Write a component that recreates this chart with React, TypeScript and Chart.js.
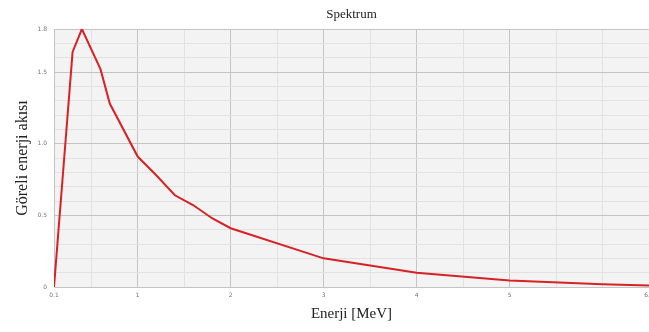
import React, { useEffect, useRef } from "react";
import { Chart, registerables } from "chart.js";

Chart.register(...registerables);

const ENERGY = [0.1, 0.3, 0.4, 0.6, 0.7, 1.0, 1.2, 1.4, 1.6, 1.8, 2.0, 3.0, 4.0, 5.0, 6.0, 6.5];
const FLUX = [0, 1.64, 1.8, 1.52, 1.28, 0.91, 0.78, 0.64, 0.57, 0.48, 0.41, 0.2, 0.1, 0.045, 0.02, 0.01];

const X_GRID = [0.1, 0.5, 1, 1.5, 2, 2.5, 3, 3.5, 4, 4.5, 5, 5.5, 6, 6.5];
const X_MAJOR = [1, 2, 3, 4, 5];
const X_TICK_LABELS: Record<string, string> = {
  "0.1": "0.1", "1.0": "1", "2.0": "2", "3.0": "3", "4.0": "4", "5.0": "5", "6.5": "6.5",
};
const Y_GRID = [0, 0.1, 0.2, 0.3, 0.4, 0.5, 0.6, 0.7, 0.8, 0.9, 1.0, 1.1, 1.2, 1.3, 1.4, 1.5, 1.6, 1.7, 1.8];
const Y_MAJOR = [0, 0.5, 1.0, 1.5, 1.8];
const Y_TICK_LABELS: Record<string, string> = {
  "0.0": "0", "0.5": "0.5", "1.0": "1.0", "1.5": "1.5", "1.8": "1.8",
};

const TITLE = "Spektrum";
const X_TITLE = "Enerji [MeV]";
const Y_TITLE = "Göreli enerji akısı";

const k = (v: number) => v.toFixed(1);

const bgPlugin = {
  id: "plotBg",
  beforeDraw(chart: any) {
    const { ctx, chartArea } = chart;
    if (!chartArea) return;
    ctx.save();
    ctx.fillStyle = "#f3f3f3";
    ctx.fillRect(chartArea.left, chartArea.top, chartArea.right - chartArea.left, chartArea.bottom - chartArea.top);
    ctx.restore();
  },
};

export default function App() {
  const ref = useRef<HTMLCanvasElement | null>(null);
  useEffect(() => {
    if (!ref.current) return;
    const chart = new Chart(ref.current, {
      type: "line",
      data: {
        datasets: [
          {
            data: ENERGY.map((e, i) => ({ x: e, y: FLUX[i] })),
            borderColor: "rgb(214,34,38)",
            borderWidth: 2,
            pointRadius: 0,
            fill: false,
            tension: 0,
          },
        ],
      },
      options: {
        animation: false,
        responsive: false,
        layout: { padding: 0 },
        plugins: {
          legend: { display: false },
          tooltip: { enabled: false },
          title: {
            display: true,
            text: TITLE,
            fullSize: false,
            color: "#222",
            font: { family: "Liberation Serif", size: 13, weight: "normal" },
            padding: { top: 7, bottom: 6.4 },
          },
        },
        scales: {
          x: {
            type: "linear",
            min: 0.1,
            max: 6.5,
            afterBuildTicks: (s: any) => {
              s.ticks = X_GRID.map((v) => ({ value: v }));
            },
            afterFit: (s: any) => {
              s.height = 45;
              s.paddingLeft = 0;
              s.paddingRight = 0;
            },
            ticks: {
              autoSkip: false,
              maxRotation: 0,
              padding: 5,
              color: "#777",
              font: { family: "DejaVu Sans", size: 6 },
              callback: (v: any) => X_TICK_LABELS[k(Number(v))] ?? "",
            },
            grid: {
              drawTicks: false,
              color: (c: any) =>
                c.tick && X_MAJOR.some((m) => Math.abs(m - c.tick.value) < 1e-6) ? "#c4c4c4" : "#e2e2e2",
              lineWidth: 1,
            },
            border: { display: true, color: "#c4c4c4" },
            title: {
              display: true,
              text: X_TITLE,
              color: "#222",
              font: { family: "Liberation Serif", size: 15 },
              padding: { top: 0, bottom: 9 },
            },
          },
          y: {
            type: "linear",
            min: 0,
            max: 1.8,
            afterBuildTicks: (s: any) => {
              s.ticks = Y_GRID.map((v) => ({ value: v }));
            },
            afterFit: (s: any) => {
              s.width = 54;
              s.paddingTop = 0;
              s.paddingBottom = 0;
            },
            ticks: {
              autoSkip: false,
              padding: 7,
              color: "#777",
              font: { family: "DejaVu Sans", size: 6 },
              callback: (v: any) => Y_TICK_LABELS[k(Number(v))] ?? "",
            },
            grid: {
              drawTicks: false,
              color: (c: any) =>
                c.tick && Y_MAJOR.some((m) => Math.abs(m - c.tick.value) < 1e-6) ? "#c4c4c4" : "#e2e2e2",
              lineWidth: 1,
            },
            border: { display: true, color: "#c4c4c4" },
            title: {
              display: true,
              text: Y_TITLE,
              color: "#222",
              font: { family: "Liberation Serif", size: 16 },
              padding: { top: 13, bottom: 0 },
            },
          },
        },
      },
      plugins: [bgPlugin],
    } as any);
    return () => chart.destroy();
  }, []);
  return (
    <div style={{ position: "absolute", left: 0, top: 0, width: 649, height: 332, background: "#fff" }}>
      <canvas ref={ref} width={649} height={332} style={{ display: "block" }} />
    </div>
  );
}
